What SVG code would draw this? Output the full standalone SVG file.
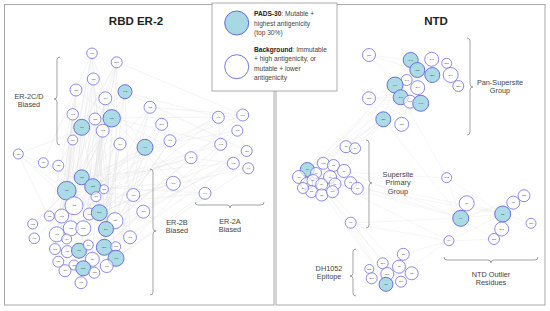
<svg xmlns="http://www.w3.org/2000/svg" width="550" height="311" viewBox="0 0 550 311">
<style>
.panel{fill:#fff;stroke:#a8a8a8;stroke-width:1}
.edge{fill:none;stroke:#e0e0e0;stroke-width:0.4}
.edge2{fill:none;stroke:#e6e6e6;stroke-width:0.35}
.w{fill:#fff;fill-opacity:0.65;stroke:#7676e4;stroke-width:0.85}
.p{fill:#a6d9e4;fill-opacity:0.95;stroke:#6868da;stroke-width:0.95}
.nl{font-family:"Liberation Sans",Arial,sans-serif;font-size:2.5px;fill:#333;text-anchor:middle;dominant-baseline:central}
.brace{fill:none;stroke:#8a8a8a;stroke-width:0.8}
.lbl{font-family:"Liberation Sans",Arial,sans-serif;font-size:7.3px;fill:#444;text-anchor:middle}
.title{font-family:"Liberation Sans",Arial,sans-serif;font-size:11.5px;font-weight:bold;fill:#222;text-anchor:middle}
.leg{font-family:"Liberation Sans",Arial,sans-serif;font-size:6.6px;fill:#444}
</style>
<rect x="0" y="0" width="550" height="311" fill="#fff"/>
<rect class="panel" x="4.5" y="4.5" width="269.5" height="300.5"/>
<rect class="panel" x="276" y="4.5" width="269" height="300.5"/>
<text class="title" x="136" y="25">RBD ER-2</text>
<text class="title" x="436" y="25">NTD</text>

<g id="connectors">
<path class="edge" d="M92 53L67 191M92 53L75 206M92 53L99 213M92 53L106 229M92 53L57 234M117 62L67 191M117 62L93 187M117 62L82 177M117 62L115 221M117 62L79 251M117 62L104 247M93 79L75 206M93 79L83 228M93 79L62 216M93 79L116 258M76 90L67 191M76 90L71 228M76 90L50 216M76 90L55 249M125 92L82 177M125 92L99 213M125 92L104 247M125 92L130 237M105 98L93 187M105 98L89 214M105 98L92 259M150 107L99 213M150 107L115 221M150 107L116 258M150 107L67 191M73 114L67 191M73 114L57 234M73 114L58 262M95 119L75 206M95 119L83 268M95 119L106 229M112 118L82 177M112 118L79 251M112 118L104 247M112 118L67 191M82 127L93 187M82 127L71 228M82 127L65 271M103 131L99 213M103 131L83 268M103 131L116 258M162 124L106 229M162 124L75 206M162 124L133 195M73 140L67 191M73 140L62 216M120 144L82 177M120 144L104 247M120 144L94 273M145 147L93 187M145 147L99 213M145 147L116 258M145 147L67 191M170 141L115 221M170 141L83 268"/>
<path class="edge" d="M218 117L67 191M218 117L99 213M218 117L93 187M218 117L112 118M218 117L125 92M243 115L82 177M243 115L106 229M243 115L117 62M243 115L150 107M237 131L75 206M237 131L116 258M237 131L145 147M221 144L67 191M221 144L104 247M221 144L112 118M247 151L99 213M247 151L79 251M247 151L125 92M191 158L93 187M191 158L67 191M191 158L115 221M191 158L112 118M233 163L82 177M233 163L106 229M233 163L84 268M248 168L75 206M248 168L116 258M173 183L67 191M173 183L99 213M173 183L104 247M205 193L93 187M205 193L116 258M205 193L75 206M18 154L67 191M18 154L75 206M18 154L82 177M18 154L112 118M18 154L57 234M43 163L99 213M43 163L93 187M43 163L92 53M58 166L106 229M58 166L117 62M33 224L82 177M33 224L67 191M34 238L93 187M92 53L112 118M117 62L82 127M93 79L145 147M76 90L112 118M125 92L82 127M218 117L243 115M218 117L221 144M237 131L247 151M191 158L233 163M133 195L67 191M143 212L82 177M130 237L67 191M173 183L112 118M205 193L145 147"/>
<path class="edge2" d="M307 170L395 85M307 170L417 70M307 170L401 97M307 170L383 119M307 170L461 218M307 170L386 284M307 170L503 214M323 163L411 60M323 163L421 103M323 163L383 119M334 166L395 85M334 166L432 75M344 171L401 97M344 171L461 218M322 184L383 119M322 184L386 284M322 184L399 267M335 184L461 218M335 184L503 214M335 184L449 241M351 223L386 284M351 223L383 263M351 223L401 282M351 223L461 218M351 223L449 241M351 223L307 170M449 241L386 284M449 241L403 254M449 241L503 214M449 241L494 239M449 241L461 218M447 178L461 218M447 178L503 214M447 178L307 170M447 178L395 85M383 119L395 85M383 119L421 103M383 119L461 218M383 119L346 147M369 55L395 85M369 55L411 60M369 55L417 70M369 55L421 103M369 98L395 85M369 98L401 97M369 98L421 103M402 124L417 70M402 124L432 75M346 147L307 170M346 147L322 184M355 148L335 184M461 218L503 214M461 218L524 196M461 218L513 203M461 218L494 239M467 203L503 214M503 214L531 223M503 214L502 229M386 284L403 254M386 284L412 273M386 284L370 269M386 284L387 274M386 284L372 278M386 284L401 282M399 267L383 263M399 267L412 273M395 85L411 60M395 85L417 70M395 85L432 75M395 85L421 103M401 97L421 103M417 70L432 75M411 60L432 75M411 60L417 70M417 70L407 80M432 75L451 75M432 75L458 86M432 59L447 63M417 70L418 88M307 170L351 183M299 177L357 188M313 180L344 171"/>
</g>

<g id="legend">
<rect x="212" y="3" width="125" height="88" fill="#fff" stroke="#9a9a9a" stroke-width="0.8"/>
<circle cx="236.7" cy="23" r="12" fill="#a6d9e4" stroke="#6868da" stroke-width="1"/>
<circle cx="236.7" cy="66.7" r="12" fill="#fff" stroke="#7676e4" stroke-width="1"/>
<text class="leg" x="254" y="16.3"><tspan font-weight="bold" fill="#222">PADS-30</tspan>: Mutable +</text>
<text class="leg" x="254" y="25.6">highest antigenicity</text>
<text class="leg" x="254" y="34.9">(top 30%)</text>
<text class="leg" x="254" y="52.3"><tspan font-weight="bold" fill="#222">Background</tspan>: Immutable</text>
<text class="leg" x="254" y="61.4">+ high antigenicity, or</text>
<text class="leg" x="254" y="70.5">mutable + lower</text>
<text class="leg" x="254" y="79.6">antigenicity</text>
</g>

<g id="brackets">
<path class="brace" d="M60 57Q57 57 57 60L57 96Q57 99 54 99Q57 99 57 102L57 142Q57 145 60 145"/>
<text class="lbl" x="29" y="98.5">ER-2C/D</text>
<text class="lbl" x="29" y="107">Biased</text>
<path class="brace" d="M150 169Q153 169 153 172L153 228Q153 231 156 231Q153 231 153 234L153 292Q153 295 150 295"/>
<text class="lbl" x="177" y="224.5">ER-2B</text>
<text class="lbl" x="177" y="233">Biased</text>
<path class="brace" d="M195 202Q195 205 198 205L227 205Q230 205 230 208Q230 205 233 205L261 205Q264 205 264 202"/>
<text class="lbl" x="230" y="223.5">ER-2A</text>
<text class="lbl" x="230" y="232">Biased</text>
<path class="brace" d="M467 38Q470 38 470 41L470 84Q470 87 473 87Q470 87 470 90L470 132Q470 135 467 135"/>
<text class="lbl" x="500" y="84.5">Pan-Supersite</text>
<text class="lbl" x="500" y="93">Group</text>
<path class="brace" d="M366 140Q369 140 369 143L369 180Q369 183 372 183Q369 183 369 186L369 225Q369 228 366 228"/>
<text class="lbl" x="398" y="176.5">Supersite</text>
<text class="lbl" x="398" y="185">Primary</text>
<text class="lbl" x="398" y="193.5">Group</text>
<path class="brace" d="M356 249Q353 249 353 252L353 273Q353 276 350 276Q353 276 353 279L353 293Q353 296 356 296"/>
<text class="lbl" x="329" y="270.5">DH1052</text>
<text class="lbl" x="329" y="279">Epitope</text>
<path class="brace" d="M444 257Q444 260 447 260L488 260Q491 260 491 263Q491 260 494 260L535 260Q538 260 538 257"/>
<text class="lbl" x="491" y="276.5">NTD Outlier</text>
<text class="lbl" x="491" y="285">Residues</text>
</g>

<g id="rbd-nodes">
<g id="r1"><circle class="w" cx="92" cy="53.3" r="5.3"/><text class="nl" x="92" y="53.3">471</text></g>
<g id="r2"><circle class="w" cx="116.7" cy="62.3" r="5.5"/><text class="nl" x="116.7" y="62.3">501</text></g>
<g id="r3"><circle class="w" cx="93.3" cy="79" r="6"/><text class="nl" x="93.3" y="79">478</text></g>
<g id="r4"><circle class="w" cx="76" cy="90" r="6"/><text class="nl" x="76" y="90">483</text></g>
<g id="r5"><circle class="p" cx="125" cy="91.7" r="7"/><text class="nl" x="125" y="91.7">492</text></g>
<g id="r6"><circle class="w" cx="105.3" cy="98.3" r="6.5"/><text class="nl" x="105.3" y="98.3">490</text></g>
<g id="r7"><circle class="w" cx="150" cy="107.3" r="6"/><text class="nl" x="150" y="107.3">485</text></g>
<g id="r8"><circle class="w" cx="72.7" cy="114.3" r="5.7"/><text class="nl" x="72.7" y="114.3">493</text></g>
<g id="r9"><circle class="w" cx="95" cy="119" r="6"/><text class="nl" x="95" y="119">481</text></g>
<g id="r10"><circle class="p" cx="111.7" cy="118.3" r="8.7"/><text class="nl" x="111.7" y="118.3">486</text></g>
<g id="r11"><circle class="p" cx="81.7" cy="127.3" r="8"/><text class="nl" x="81.7" y="127.3">484</text></g>
<g id="r12"><circle class="w" cx="102.7" cy="130.7" r="6.5"/><text class="nl" x="102.7" y="130.7">472</text></g>
<g id="r13"><circle class="w" cx="161.7" cy="124.3" r="6"/><text class="nl" x="161.7" y="124.3">500</text></g>
<g id="r14"><circle class="w" cx="72.7" cy="140" r="5"/><text class="nl" x="72.7" y="140">489</text></g>
<g id="r15"><circle class="w" cx="120" cy="144" r="6"/><text class="nl" x="120" y="144">494</text></g>
<g id="r16"><circle class="p" cx="145" cy="147.3" r="8"/><text class="nl" x="145" y="147.3">446</text></g>
<g id="r17"><circle class="w" cx="170" cy="140.7" r="6"/><text class="nl" x="170" y="140.7">497</text></g>
<g id="r18"><circle class="w" cx="218.3" cy="117.3" r="6"/><text class="nl" x="218.3" y="117.3">447</text></g>
<g id="r19"><circle class="w" cx="242.7" cy="115" r="6"/><text class="nl" x="242.7" y="115">499</text></g>
<g id="r20"><circle class="w" cx="237.3" cy="130.7" r="5.5"/><text class="nl" x="237.3" y="130.7">443</text></g>
<g id="r21"><circle class="w" cx="220.7" cy="144.3" r="6"/><text class="nl" x="220.7" y="144.3">448</text></g>
<g id="r22"><circle class="w" cx="246.7" cy="151" r="5.5"/><text class="nl" x="246.7" y="151">450</text></g>
<g id="r23"><circle class="w" cx="18.3" cy="154" r="5"/><text class="nl" x="18.3" y="154">476</text></g>
<g id="r24"><circle class="w" cx="191" cy="157.7" r="6"/><text class="nl" x="191" y="157.7">491</text></g>
<g id="r25"><circle class="w" cx="233.3" cy="163.3" r="6"/><text class="nl" x="233.3" y="163.3">445</text></g>
<g id="r26"><circle class="w" cx="248.3" cy="168.3" r="5.5"/><text class="nl" x="248.3" y="168.3">441</text></g>
<g id="r29"><circle class="w" cx="43.3" cy="162.7" r="5"/><text class="nl" x="43.3" y="162.7">479</text></g>
<g id="r30"><circle class="w" cx="58.3" cy="165.7" r="5.5"/><text class="nl" x="58.3" y="165.7">480</text></g>
<g id="r31"><circle class="p" cx="81.7" cy="177.3" r="7.5"/><text class="nl" x="81.7" y="177.3">455</text></g>
<g id="r32"><circle class="p" cx="66.7" cy="190.7" r="9.3"/><text class="nl" x="66.7" y="190.7">456</text></g>
<g id="r33"><circle class="p" cx="92.7" cy="186.7" r="8"/><text class="nl" x="92.7" y="186.7">452</text></g>
<g id="r34"><circle class="w" cx="104" cy="189.3" r="4.5"/><text class="nl" x="104" y="189.3">453</text></g>
<g id="r35"><circle class="w" cx="96" cy="196.7" r="5"/><text class="nl" x="96" y="196.7">454</text></g>
<g id="r36"><circle class="w" cx="74" cy="205.7" r="9"/><text class="nl" x="74" y="205.7">495</text></g>
<g id="r37"><circle class="w" cx="173.3" cy="183.3" r="7"/><text class="nl" x="173.3" y="183.3">496</text></g>
<g id="r38"><circle class="w" cx="133.3" cy="195" r="6.5"/><text class="nl" x="133.3" y="195">498</text></g>
<g id="r39"><circle class="w" cx="205" cy="193.3" r="6"/><text class="nl" x="205" y="193.3">444</text></g>
<g id="r40"><circle class="w" cx="143.3" cy="211.7" r="6.5"/><text class="nl" x="143.3" y="211.7">487</text></g>
<g id="r41"><circle class="w" cx="49.3" cy="216" r="5"/><text class="nl" x="49.3" y="216">475</text></g>
<g id="r42"><circle class="w" cx="61.7" cy="216" r="7"/><text class="nl" x="61.7" y="216">467</text></g>
<g id="r43"><circle class="w" cx="89.3" cy="214" r="6"/><text class="nl" x="89.3" y="214">470</text></g>
<g id="r44"><circle class="p" cx="99.3" cy="212.7" r="8"/><text class="nl" x="99.3" y="212.7">503</text></g>
<g id="r45"><circle class="w" cx="115" cy="220.7" r="8"/><text class="nl" x="115" y="220.7">488</text></g>
<g id="r46"><circle class="w" cx="32.7" cy="224" r="5"/><text class="nl" x="32.7" y="224">432</text></g>
<g id="r47"><circle class="w" cx="70.7" cy="228.3" r="7.5"/><text class="nl" x="70.7" y="228.3">482</text></g>
<g id="r48"><circle class="w" cx="83.3" cy="228.3" r="7.5"/><text class="nl" x="83.3" y="228.3">502</text></g>
<g id="r49"><circle class="p" cx="106" cy="229" r="7.5"/><text class="nl" x="106" y="229">504</text></g>
<g id="r50"><circle class="w" cx="56.7" cy="234.3" r="7.5"/><text class="nl" x="56.7" y="234.3">473</text></g>
<g id="r51"><circle class="w" cx="66.7" cy="239" r="5"/><text class="nl" x="66.7" y="239">474</text></g>
<g id="r52"><circle class="w" cx="34.3" cy="238.3" r="5.3"/><text class="nl" x="34.3" y="238.3">477</text></g>
<g id="r53"><circle class="w" cx="130" cy="237.3" r="6.5"/><text class="nl" x="130" y="237.3">461</text></g>
<g id="r54"><circle class="w" cx="55" cy="249" r="5.5"/><text class="nl" x="55" y="249">463</text></g>
<g id="r55"><circle class="w" cx="67.3" cy="251.7" r="6"/><text class="nl" x="67.3" y="251.7">466</text></g>
<g id="r56"><circle class="p" cx="79" cy="250.7" r="7.5"/><text class="nl" x="79" y="250.7">417</text></g>
<g id="r57"><circle class="w" cx="88.3" cy="245" r="5"/><text class="nl" x="88.3" y="245">469</text></g>
<g id="r58"><circle class="p" cx="104.3" cy="247.3" r="8"/><text class="nl" x="104.3" y="247.3">500</text></g>
<g id="r59"><circle class="w" cx="115.7" cy="246.7" r="5"/><text class="nl" x="115.7" y="246.7">465</text></g>
<g id="r60"><circle class="p" cx="116" cy="258.3" r="8"/><text class="nl" x="116" y="258.3">493</text></g>
<g id="r61"><circle class="w" cx="92.3" cy="259.3" r="7"/><text class="nl" x="92.3" y="259.3">421</text></g>
<g id="r62"><circle class="w" cx="58.3" cy="261.7" r="5.5"/><text class="nl" x="58.3" y="261.7">457</text></g>
<g id="r63"><circle class="w" cx="74" cy="265" r="5"/><text class="nl" x="74" y="265">458</text></g>
<g id="r64"><circle class="p" cx="83.3" cy="268.3" r="7.5"/><text class="nl" x="83.3" y="268.3">505</text></g>
<g id="r65"><circle class="w" cx="106.7" cy="266" r="6.5"/><text class="nl" x="106.7" y="266">460</text></g>
<g id="r66"><circle class="w" cx="65" cy="270.7" r="6"/><text class="nl" x="65" y="270.7">459</text></g>
<g id="r67"><circle class="w" cx="94.3" cy="272.7" r="5.5"/><text class="nl" x="94.3" y="272.7">462</text></g>
<g id="r68"><circle class="w" cx="81" cy="282.7" r="6"/><text class="nl" x="81" y="282.7">475</text></g>
</g>

<g id="ntd-nodes">
<g id="t1"><circle class="w" cx="369" cy="55" r="6.5"/><text class="nl" x="369" y="55">157</text></g>
<g id="t2"><circle class="p" cx="410.7" cy="60" r="7.5"/><text class="nl" x="410.7" y="60">146</text></g>
<g id="t3"><circle class="w" cx="431.7" cy="59.3" r="7"/><text class="nl" x="431.7" y="59.3">248</text></g>
<g id="t4"><circle class="w" cx="446.7" cy="63.3" r="5"/><text class="nl" x="446.7" y="63.3">251</text></g>
<g id="t5"><circle class="p" cx="417.3" cy="70" r="7.5"/><text class="nl" x="417.3" y="70">152</text></g>
<g id="t6"><circle class="p" cx="432.3" cy="75" r="7.5"/><text class="nl" x="432.3" y="75">250</text></g>
<g id="t7"><circle class="w" cx="450.7" cy="75" r="7.5"/><text class="nl" x="450.7" y="75">249</text></g>
<g id="t8"><circle class="w" cx="406.7" cy="80" r="5.5"/><text class="nl" x="406.7" y="80">147</text></g>
<g id="t9"><circle class="w" cx="458.3" cy="86" r="5.5"/><text class="nl" x="458.3" y="86">253</text></g>
<g id="t10"><circle class="p" cx="395" cy="85" r="8"/><text class="nl" x="395" y="85">144</text></g>
<g id="t11"><circle class="w" cx="417.7" cy="87.7" r="7"/><text class="nl" x="417.7" y="87.7">246</text></g>
<g id="t12"><circle class="p" cx="400.7" cy="97.3" r="7.5"/><text class="nl" x="400.7" y="97.3">245</text></g>
<g id="t13"><circle class="w" cx="410" cy="101.7" r="6.5"/><text class="nl" x="410" y="101.7">247</text></g>
<g id="t14"><circle class="p" cx="420.7" cy="103.3" r="8"/><text class="nl" x="420.7" y="103.3">148</text></g>
<g id="t15"><circle class="w" cx="369" cy="98.3" r="6.5"/><text class="nl" x="369" y="98.3">158</text></g>
<g id="t16"><circle class="p" cx="383.3" cy="119.3" r="7.5"/><text class="nl" x="383.3" y="119.3">150</text></g>
<g id="t17"><circle class="w" cx="401.7" cy="124.3" r="7"/><text class="nl" x="401.7" y="124.3">156</text></g>
<g id="t18"><circle class="w" cx="346" cy="146.7" r="6"/><text class="nl" x="346" y="146.7">18</text></g>
<g id="t19"><circle class="w" cx="355" cy="148.3" r="5.5"/><text class="nl" x="355" y="148.3">19</text></g>
<g id="t20"><circle class="p" cx="307.3" cy="169.5" r="7"/><text class="nl" x="307.3" y="169.5">16</text></g>
<g id="t21"><circle class="w" cx="323.3" cy="163.3" r="6"/><text class="nl" x="323.3" y="163.3">142</text></g>
<g id="t22"><circle class="w" cx="333.5" cy="165.5" r="6"/><text class="nl" x="333.5" y="165.5">75</text></g>
<g id="t23"><circle class="w" cx="344" cy="171" r="6.5"/><text class="nl" x="344" y="171">76</text></g>
<g id="t24"><circle class="w" cx="299" cy="177" r="6.5"/><text class="nl" x="299" y="177">17</text></g>
<g id="t25"><circle class="w" cx="316" cy="173" r="5.5"/><text class="nl" x="316" y="173">77</text></g>
<g id="t26"><circle class="w" cx="330" cy="177" r="6.5"/><text class="nl" x="330" y="177">70</text></g>
<g id="t27"><circle class="w" cx="306.7" cy="183.5" r="6"/><text class="nl" x="306.7" y="183.5">20</text></g>
<g id="t28"><circle class="w" cx="313" cy="180.5" r="6"/><text class="nl" x="313" y="180.5">21</text></g>
<g id="t29"><circle class="w" cx="321.7" cy="184.5" r="6"/><text class="nl" x="321.7" y="184.5">24</text></g>
<g id="t30"><circle class="w" cx="335" cy="184" r="6"/><text class="nl" x="335" y="184">69</text></g>
<g id="t31"><circle class="w" cx="350.7" cy="182.7" r="6"/><text class="nl" x="350.7" y="182.7">68</text></g>
<g id="t32"><circle class="w" cx="357.3" cy="188.3" r="6"/><text class="nl" x="357.3" y="188.3">67</text></g>
<g id="t33"><circle class="w" cx="311.5" cy="191.5" r="6"/><text class="nl" x="311.5" y="191.5">22</text></g>
<g id="t34"><circle class="w" cx="321.7" cy="195" r="6"/><text class="nl" x="321.7" y="195">25</text></g>
<g id="t35"><circle class="w" cx="332.5" cy="191.7" r="6"/><text class="nl" x="332.5" y="191.7">140</text></g>
<g id="t36"><circle class="w" cx="303" cy="188" r="5.5"/><text class="nl" x="303" y="188">14</text></g>
<g id="t37"><circle class="w" cx="350.7" cy="222.7" r="5.5"/><text class="nl" x="350.7" y="222.7">96</text></g>
<g id="t38"><circle class="w" cx="446.7" cy="177.7" r="5"/><text class="nl" x="446.7" y="177.7">242</text></g>
<g id="t39"><circle class="w" cx="466.7" cy="203.3" r="7.5"/><text class="nl" x="466.7" y="203.3">51</text></g>
<g id="t40"><circle class="p" cx="460.7" cy="218.3" r="8"/><text class="nl" x="460.7" y="218.3">97</text></g>
<g id="t41"><circle class="p" cx="502.7" cy="214" r="8"/><text class="nl" x="502.7" y="214">52</text></g>
<g id="t42"><circle class="w" cx="513.3" cy="202.7" r="6.5"/><text class="nl" x="513.3" y="202.7">62</text></g>
<g id="t43"><circle class="w" cx="524" cy="195.7" r="6"/><text class="nl" x="524" y="195.7">183</text></g>
<g id="t44"><circle class="w" cx="531" cy="223.3" r="5"/><text class="nl" x="531" y="223.3">186</text></g>
<g id="t45"><circle class="w" cx="501.7" cy="229" r="7"/><text class="nl" x="501.7" y="229">212</text></g>
<g id="t46"><circle class="w" cx="494" cy="239" r="5.5"/><text class="nl" x="494" y="239">215</text></g>
<g id="t47"><circle class="w" cx="449" cy="240.7" r="5"/><text class="nl" x="449" y="240.7">94</text></g>
<g id="t48"><circle class="w" cx="403.3" cy="254.3" r="6"/><text class="nl" x="403.3" y="254.3">27</text></g>
<g id="t49"><circle class="w" cx="382.7" cy="263.3" r="5.5"/><text class="nl" x="382.7" y="263.3">216</text></g>
<g id="t50"><circle class="w" cx="399" cy="266.7" r="6.5"/><text class="nl" x="399" y="266.7">30</text></g>
<g id="t51"><circle class="w" cx="369.3" cy="269" r="4.5"/><text class="nl" x="369.3" y="269">213</text></g>
<g id="t52"><circle class="w" cx="411.7" cy="273.3" r="6.5"/><text class="nl" x="411.7" y="273.3">32</text></g>
<g id="t53"><circle class="w" cx="387.3" cy="274" r="6.5"/><text class="nl" x="387.3" y="274">209</text></g>
<g id="t54"><circle class="w" cx="371.7" cy="278.3" r="5.5"/><text class="nl" x="371.7" y="278.3">219</text></g>
<g id="t55"><circle class="w" cx="401" cy="281.7" r="5.5"/><text class="nl" x="401" y="281.7">214</text></g>
<g id="t56"><circle class="p" cx="386" cy="284.3" r="7"/><text class="nl" x="386" y="284.3">28</text></g>
</g>
</svg>
